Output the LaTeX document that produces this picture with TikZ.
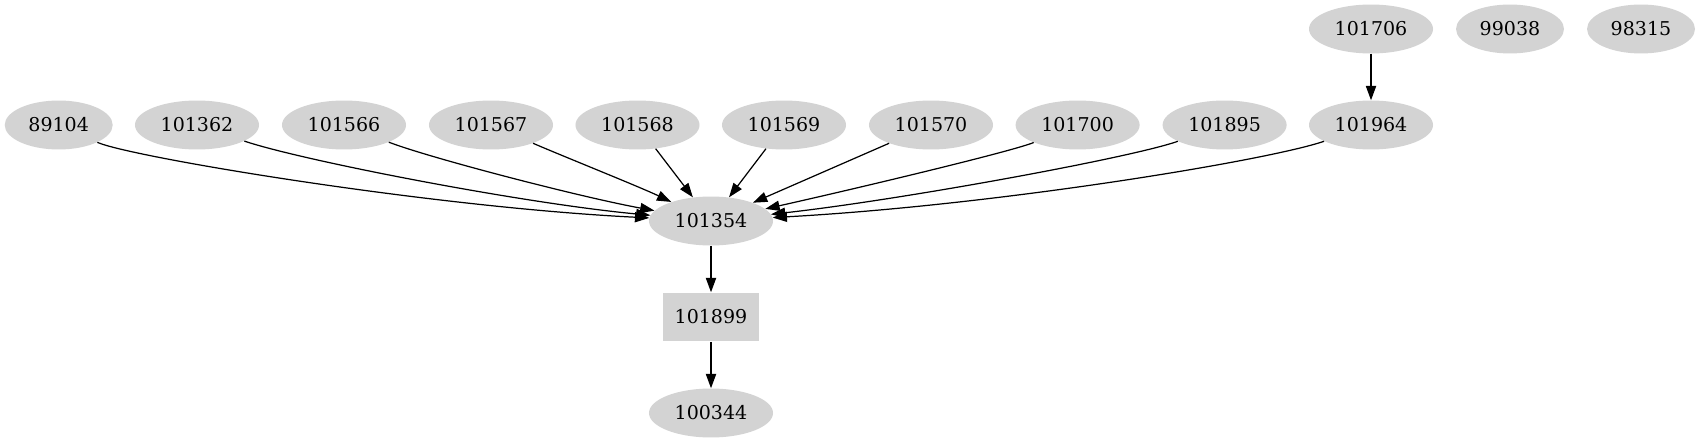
\documentclass[tikz,border=0pt]{standalone}
\usepackage{fontspec}
\setmainfont{DejaVu Serif}
\usetikzlibrary{shapes.geometric,arrows.meta}
\definecolor{nodegray}{RGB}{211,211,211}
\tikzset{
  ell/.style={ellipse,fill=nodegray,draw=none,inner sep=0pt,minimum width=91.2pt,minimum height=36pt,font=\fontsize{14}{16}\selectfont},
  ellsmall/.style={ell,minimum width=79.4pt},
  boxnode/.style={rectangle,fill=nodegray,draw=none,inner sep=0pt,minimum width=70.6pt,minimum height=36pt,font=\fontsize{14}{16}\selectfont},
  edge/.style={draw=black,line width=0.9pt,-{Triangle[length=10.5pt,width=7.5pt]}}
}
\begin{document}
\begin{tikzpicture}[x=0.7353pt,y=-0.7353pt]
\useasboundingbox (0,0) rectangle (1701,443);
\node[ellsmall] (n89104) at (58.7,125) {89104};
\node[ell] (n101362) at (197,125) {101362};
\node[ell] (n101566) at (344,125) {101566};
\node[ell] (n101567) at (491,125) {101567};
\node[ell] (n101568) at (637.5,125) {101568};
\node[ell] (n101569) at (784,125) {101569};
\node[ell] (n101570) at (931,125) {101570};
\node[ell] (n101700) at (1077.6,125) {101700};
\node[ell] (n101895) at (1224.6,125) {101895};
\node[ell] (n101964) at (1371,125) {101964};
\node[ell] (n101706) at (1371,29) {101706};
\node[ellsmall] (n99038) at (1510,29) {99038};
\node[ellsmall] (n98315) at (1641,29) {98315};
\node[ell] (n101354) at (711,221) {101354};
\node[boxnode] (n101899) at (711,317) {101899};
\node[ell] (n100344) at (711,413) {100344};

\draw[edge] (n89104) .. controls (130,157) and (430,207) .. (n101354);
\draw[edge] (n101362) .. controls (300,160) and (520,203) .. (n101354);
\draw[edge] (n101566) .. controls (430,158) and (580,197) .. (n101354);
\draw[edge] (n101567) .. controls (560,155) and (640,187) .. (n101354);
\draw[edge] (n101568) -- (n101354);
\draw[edge] (n101569) -- (n101354);
\draw[edge] (n101570) -- (n101354);
\draw[edge] (n101700) .. controls (1010,152) and (850,190) .. (n101354);
\draw[edge] (n101895) .. controls (1130,158) and (900,200) .. (n101354);
\draw[edge] (n101964) .. controls (1270,160) and (1000,205) .. (n101354);
\draw[edge] (n101706) -- (n101964);
\draw[edge] (n101354) -- (n101899);
\draw[edge] (n101899) -- (n100344);
\end{tikzpicture}
\end{document}
